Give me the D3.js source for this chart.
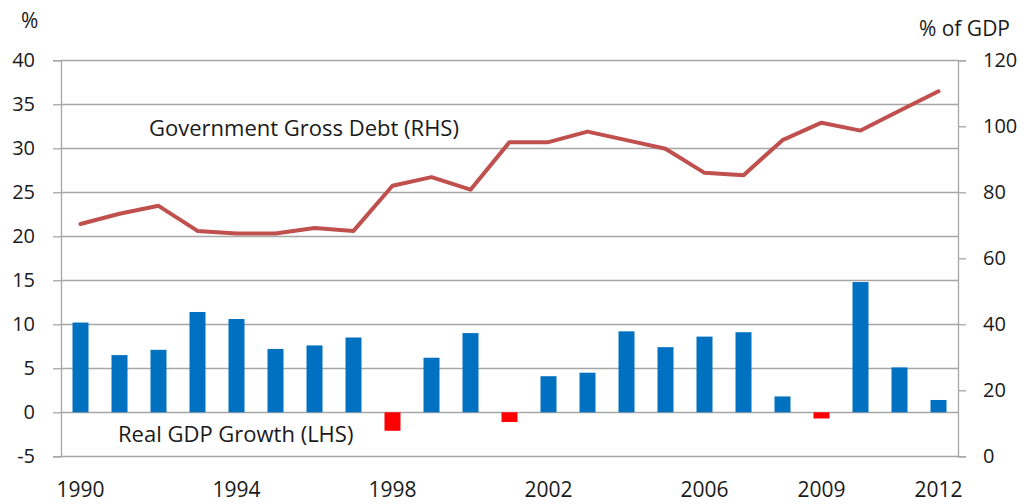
<!DOCTYPE html>
<html>
<head>
<meta charset="utf-8">
<script src="https://cdn.jsdelivr.net/npm/d3@7"></script>
<style>
  html, body { margin: 0; padding: 0; background: #fff; }
  svg { display: block; }
  text { font-family: "Open Sans", sans-serif; fill: #1a1a1a; }
</style>
</head>
<body>
<svg id="chart" width="1029" height="504"></svg>
<script>
// Years on the category axis
const years = [1990, 1991, 1992, 1993, 1994, 1995, 1996, 1997, 1998, 1999, 2000,
               2001, 2002, 2003, 2004, 2005, 2006, 2007, 2008, 2009, 2010, 2011, 2012];

// Real GDP growth, % (left axis)
const gdpGrowth = [10.2, 6.5, 7.1, 11.4, 10.6, 7.2, 7.6, 8.5, -2.1, 6.2, 9.0,
                   -1.1, 4.1, 4.5, 9.2, 7.4, 8.6, 9.1, 1.8, -0.7, 14.8, 5.1, 1.4];

// Government gross debt, % of GDP (right axis)
const grossDebt = [70.4, 73.5, 75.9, 68.3, 67.5, 67.5, 69.2, 68.3, 82.0, 84.6, 80.8,
                   95.2, 95.2, 98.4, 95.8, 93.2, 85.9, 85.2, 95.8, 101.1, 98.7, 104.7, 110.6];

// Axis tick values and labels
const leftTicks = [-5, 0, 5, 10, 15, 20, 25, 30, 35, 40];
const rightTicks = [0, 20, 40, 60, 80, 100, 120];
const yearLabels = [1990, 1994, 1998, 2002, 2006, 2009, 2012];

const svg = d3.select("#chart");
const plot = { left: 61, right: 958, top: 60.3, bottom: 456.3 };

const x = d3.scaleBand()
  .domain(years)
  .range([plot.left, plot.right])
  .paddingInner(0.59)
  .paddingOuter(0.295);

const yL = d3.scaleLinear().domain([-5, 40]).range([plot.bottom, plot.top]);
const yR = d3.scaleLinear().domain([0, 120]).range([plot.bottom, plot.top]);

const gridColor = "#a6a6a6";
// Plain hyphen for negative numbers
const plainNum = d => String(d);

// Horizontal gridlines at the left-axis ticks
svg.append("g")
  .selectAll("line")
  .data(leftTicks)
  .join("line")
  .attr("x1", plot.left)
  .attr("x2", plot.right)
  .attr("y1", d => Math.round(yL(d)) + 0.5)
  .attr("y2", d => Math.round(yL(d)) + 0.5)
  .attr("stroke", gridColor)
  .attr("stroke-width", 1.3);

// Left axis
const gLeft = svg.append("g")
  .attr("transform", `translate(${plot.left},0)`)
  .call(d3.axisLeft(yL).tickValues(leftTicks).tickFormat(plainNum).tickSize(8).tickPadding(18));
gLeft.select(".domain").attr("stroke", gridColor).attr("stroke-width", 1.3);
gLeft.selectAll(".tick line").attr("stroke", gridColor).attr("stroke-width", 1.3);
gLeft.selectAll(".tick text").style("font-size", "20px").attr("fill", "#1a1a1a");

// Right axis
const gRight = svg.append("g")
  .attr("transform", `translate(${plot.right},0)`)
  .call(d3.axisRight(yR).tickValues(rightTicks).tickFormat(plainNum).tickSize(8).tickPadding(17));
gRight.select(".domain").attr("stroke", gridColor).attr("stroke-width", 1.3);
gRight.selectAll(".tick line").attr("stroke", gridColor).attr("stroke-width", 1.3);
gRight.selectAll(".tick text").style("font-size", "20px").attr("fill", "#1a1a1a");

// Year labels under the chart
const gBottom = svg.append("g")
  .attr("transform", `translate(0,${plot.bottom})`)
  .call(d3.axisBottom(x).tickValues(yearLabels).tickSize(0).tickPadding(26));
gBottom.select(".domain").remove();
gBottom.selectAll(".tick text").style("font-size", "21px").attr("fill", "#1a1a1a");

// GDP growth bars: blue for growth, red for contraction
svg.append("g")
  .selectAll("rect")
  .data(years.map((yr, i) => ({ yr, v: gdpGrowth[i] })))
  .join("rect")
  .attr("x", d => x(d.yr))
  .attr("width", x.bandwidth())
  .attr("y", d => yL(Math.max(0, d.v)))
  .attr("height", d => Math.abs(yL(d.v) - yL(0)))
  .attr("fill", d => d.v < 0 ? "#ff0000" : "#0070c0");

// Gross debt line
const line = d3.line()
  .x((d, i) => x(years[i]) + x.bandwidth() / 2)
  .y(d => yR(d));

svg.append("path")
  .datum(grossDebt)
  .attr("d", line)
  .attr("fill", "none")
  .attr("stroke", "#c0504d")
  .attr("stroke-width", 4)
  .attr("stroke-linejoin", "round")
  .attr("stroke-linecap", "round");

// Series annotations
svg.append("text")
  .attr("x", 149).attr("y", 136)
  .style("font-size", "22px")
  .text("Government Gross Debt (RHS)");

svg.append("text")
  .attr("x", 118).attr("y", 442)
  .style("font-size", "22px")
  .text("Real GDP Growth (LHS)");

// Axis unit labels
svg.append("text")
  .attr("x", 21).attr("y", 28)
  .style("font-size", "21px")
  .text("%");

svg.append("text")
  .attr("x", 1010).attr("y", 36)
  .attr("text-anchor", "end")
  .style("font-size", "21px")
  .text("% of GDP");
</script>
</body>
</html>
